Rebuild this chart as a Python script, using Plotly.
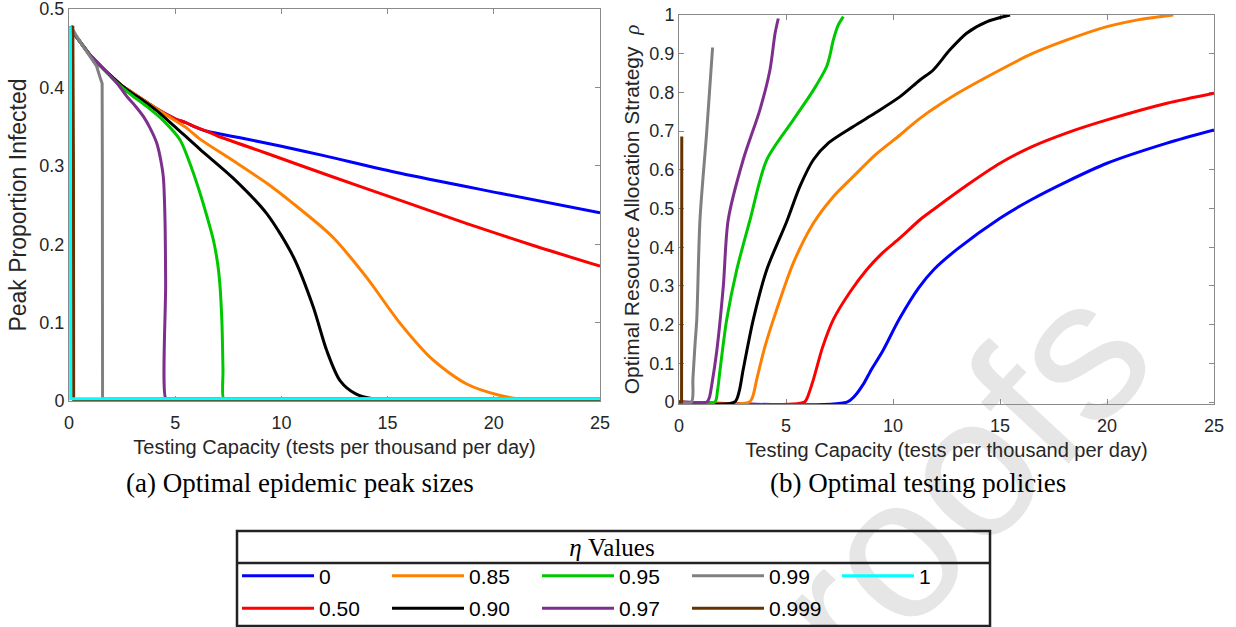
import plotly.graph_objects as go

# ---------------- data ----------------
eta_labels = ["0", "0.50", "0.85", "0.90", "0.95", "0.97", "0.99", "0.999", "1"]
eta_colors = ["#0000ff", "#ff0000", "#ff8000", "#000000", "#00c800",
              "#7e2f8e", "#808080", "#663300", "#00ffff"]

# (a) peak proportion infected vs testing capacity
peak_x_0 = [0, 0.5, 1, 1.5, 2, 2.5, 3, 3.5, 4, 4.5, 5, 5.5, 6, 6.5, 8, 10, 12, 15.6, 20.3, 25]
peak_y_0 = [0.477, 0.459, 0.441, 0.427, 0.414, 0.402, 0.393, 0.384, 0.375, 0.367, 0.360, 0.355,
            0.349, 0.344, 0.336, 0.325, 0.313, 0.2905, 0.265, 0.240]
peak_x_50 = [0, 0.5, 1, 1.5, 2, 2.5, 3, 3.5, 4, 4.5, 5, 5.5, 6, 6.5, 7, 9.3, 12.4, 15.6, 18.7, 21.9, 25]
peak_y_50 = [0.477, 0.459, 0.441, 0.427, 0.414, 0.402, 0.393, 0.384, 0.375, 0.367, 0.360, 0.355,
             0.349, 0.344, 0.338, 0.316, 0.286, 0.256, 0.2266, 0.198, 0.172]
peak_x_85 = [0, 0.5, 1, 1.5, 2, 2.5, 3, 3.5, 4, 4.5, 5.5, 6.17, 7.7, 9.3, 10.5, 12.4, 14.0, 15.6,
             17.15, 18.7, 20.3, 21.2, 22.0, 25]
peak_y_85 = [0.477, 0.459, 0.441, 0.427, 0.414, 0.402, 0.393, 0.384, 0.375, 0.366, 0.349, 0.334,
             0.307, 0.278, 0.253, 0.2095, 0.158, 0.0987, 0.052, 0.022, 0.007, 0.003, 0.003, 0.003]
peak_x_90 = [0, 0.5, 1, 1.5, 2, 2.5, 3, 3.5, 4.1, 4.9, 6.17, 7.74, 9.3, 10.56, 11.5, 12.13, 12.76,
             13.5, 14.3, 15.0, 25]
peak_y_90 = [0.477, 0.459, 0.441, 0.427, 0.414, 0.402, 0.392, 0.383, 0.371, 0.352, 0.321, 0.284,
             0.2394, 0.184, 0.120, 0.0646, 0.026, 0.009, 0.003, 0.003, 0.003]
peak_x_95 = [0, 0.5, 1, 1.5, 2, 2.5, 3, 3.66, 4.5, 5.23, 5.8, 6.17, 6.5, 6.8, 7.0, 7.1, 7.2, 7.25,
             7.28, 7.5, 25]
peak_y_95 = [0.477, 0.459, 0.441, 0.427, 0.413, 0.400, 0.389, 0.3757, 0.356, 0.333, 0.295, 0.265,
             0.235, 0.205, 0.175, 0.150, 0.100, 0.040, 0.003, 0.003, 0.003]
peak_x_97 = [0, 0.5, 1, 1.5, 2, 2.3, 2.72, 3.1, 3.5, 3.8, 4.13, 4.3, 4.44, 4.52, 4.55, 4.56, 4.7, 25]
peak_y_97 = [0.477, 0.459, 0.441, 0.427, 0.413, 0.404, 0.3885, 0.377, 0.363, 0.349, 0.329, 0.310,
             0.286, 0.231, 0.150, 0.003, 0.003, 0.003]
peak_x_99 = [0.05, 0.13, 0.5, 0.99, 1.3, 1.46, 1.56, 1.57, 1.58, 25]
peak_y_99 = [0.477, 0.476, 0.459, 0.440, 0.427, 0.413, 0.405, 0.300, 0.003, 0.003]
peak_x_999 = [0.1, 0.18, 0.21, 0.22, 25]
peak_y_999 = [0.478, 0.477, 0.300, 0.001, 0.001]
peak_x_1 = [0.06, 0.07, 0.08, 25]
peak_y_1 = [0.478, 0.300, 0.003, 0.003]

# (b) optimal resource allocation strategy rho vs testing capacity
rho_x_0 = [0, 7.85, 8.2, 8.6, 9.0, 9.5, 10.3, 11.2, 11.9, 13.0, 15.0, 16.5, 18.1, 20.0, 22.8, 25]
rho_y_0 = [0, 0, 0.015, 0.045, 0.085, 0.130, 0.215, 0.295, 0.342, 0.395, 0.475, 0.524, 0.569,
           0.617, 0.669, 0.703]
rho_x_50 = [0, 5.86, 6.0, 6.28, 6.7, 7.21, 8.0, 8.77, 9.5, 10.33, 11.26, 11.88, 13.5, 15.0, 16.5,
            18.1, 20.0, 22.8, 25]
rho_y_50 = [0, 0, 0.012, 0.058, 0.140, 0.213, 0.285, 0.342, 0.385, 0.424, 0.471, 0.497, 0.562,
            0.617, 0.660, 0.695, 0.729, 0.772, 0.798]
rho_x_85 = [0, 3.29, 3.45, 3.63, 4.0, 4.41, 5.34, 6.28, 7.2, 8.15, 9.2, 10.33, 11.26, 13.0, 15.0,
            16.5, 18.1, 20.0, 21.5, 23.1]
rho_y_85 = [0, 0, 0.015, 0.058, 0.140, 0.213, 0.359, 0.462, 0.530, 0.583, 0.640, 0.690, 0.733,
            0.797, 0.858, 0.900, 0.935, 0.970, 0.988, 1.0]
rho_x_90 = [0, 2.6, 2.8, 3.0, 3.47, 4.1, 5.03, 5.65, 6.28, 7.0, 8.15, 9.2, 10.33, 11.26, 11.88,
            12.66, 13.44, 14.4, 15.47]
rho_y_90 = [0, 0, 0.025, 0.084, 0.213, 0.342, 0.466, 0.557, 0.626, 0.670, 0.712, 0.748, 0.789,
            0.832, 0.858, 0.910, 0.953, 0.983, 1.0]
rho_x_95 = [0, 1.67, 1.8, 1.92, 2.23, 2.7, 3.32, 4.1, 5.34, 6.28, 6.9, 7.05, 7.21, 7.45, 7.68]
rho_y_95 = [0, 0, 0.030, 0.084, 0.213, 0.342, 0.471, 0.626, 0.729, 0.806, 0.867, 0.895, 0.935,
            0.975, 0.996]
rho_x_97 = [0, 1.3, 1.42, 1.53, 1.76, 2.07, 2.3, 3.0, 3.78, 4.25, 4.49, 4.64]
rho_y_97 = [0, 0, 0.012, 0.044, 0.130, 0.299, 0.471, 0.626, 0.755, 0.858, 0.953, 0.991]
rho_x_99 = [0, 0.58, 0.65, 0.75, 0.83, 0.98, 1.29, 1.57]
rho_y_99 = [0, 0, 0.060, 0.150, 0.213, 0.471, 0.695, 0.916]
rho_x_999 = [0, 0.12, 0.13]
rho_y_999 = [0, 0, 0.686]

peak_series = [(peak_x_0, peak_y_0), (peak_x_50, peak_y_50), (peak_x_85, peak_y_85),
               (peak_x_90, peak_y_90), (peak_x_95, peak_y_95), (peak_x_97, peak_y_97),
               (peak_x_99, peak_y_99), (peak_x_999, peak_y_999), (peak_x_1, peak_y_1)]
rho_series = [(rho_x_0, rho_y_0), (rho_x_50, rho_y_50), (rho_x_85, rho_y_85),
              (rho_x_90, rho_y_90), (rho_x_95, rho_y_95), (rho_x_97, rho_y_97),
              (rho_x_99, rho_y_99), (rho_x_999, rho_y_999), None]
# smooth curves vs. sharp (nearly vertical) drops
peak_shape = ["spline", "spline", "spline", "spline", "spline", "spline", "linear", "linear", "linear"]
rho_shape = ["spline", "spline", "spline", "spline", "spline", "spline", "spline", "linear", "linear"]

legend_row = {"0": "legend", "0.85": "legend", "0.95": "legend", "0.99": "legend", "1": "legend",
              "0.50": "legend2", "0.90": "legend2", "0.97": "legend2", "0.999": "legend2"}

x_ticks = [0, 5, 10, 15, 20, 25]
peak_ticks = [0, 0.1, 0.2, 0.3, 0.4, 0.5]
rho_ticks = [0, 0.1, 0.2, 0.3, 0.4, 0.5, 0.6, 0.7, 0.8, 0.9, 1]

# ---------------- figure ----------------
W, H = 1236, 627
ML, MR, MT, MB = 69, 22, 8, 223
PW, PH = W - ML - MR, H - MT - MB


def px_x(p):
    return (p - ML) / PW


def px_y(p):
    return (H - MB - p) / PH


SANS = "Liberation Sans, Arial, sans-serif"
SERIF = "Liberation Serif, Times New Roman, serif"
TXT = "#262626"
AX = "#8a8a8a"
LW = 3

fig = go.Figure()
for i, lab in enumerate(eta_labels):
    px_, py_ = peak_series[i]
    fig.add_trace(go.Scatter(x=px_, y=py_, mode="lines", name=lab,
                             line=dict(color=eta_colors[i], width=LW, shape=peak_shape[i],
                                       smoothing=0.8),
                             xaxis="x", yaxis="y", legend=legend_row[lab],
                             legendgroup=lab, hoverinfo="skip"))
for i, lab in enumerate(eta_labels):
    if rho_series[i] is None:
        continue
    rx, ry = rho_series[i]
    fig.add_trace(go.Scatter(x=rx, y=ry, mode="lines", name=lab,
                             line=dict(color=eta_colors[i], width=LW, shape=rho_shape[i],
                                       smoothing=0.8),
                             xaxis="x2", yaxis="y2", legendgroup=lab,
                             showlegend=False, hoverinfo="skip"))

axis_common = dict(showline=True, linecolor=AX, linewidth=1, mirror="ticks",
                   ticks="inside", ticklen=5, tickcolor=AX, showgrid=False,
                   zeroline=False, layer="below traces", ticklabeloverflow="allow",
                   tickfont=dict(family=SANS, size=18, color=TXT))

xtitle = "Testing Capacity (tests per thousand per day)"
fig.update_layout(
    width=W, height=H,
    margin=dict(l=ML, r=MR, t=MT, b=MB, autoexpand=False),
    paper_bgcolor="white", plot_bgcolor="rgba(0,0,0,0)",
    font=dict(family=SANS, color=TXT),
    hovermode=False,
    xaxis=dict(domain=[0, px_x(600)], range=[0, 25], tickvals=x_ticks, anchor="y",
               ticklabelstandoff=5,
               title=dict(text=xtitle, font=dict(family=SANS, size=20, color=TXT), standoff=8),
               **axis_common),
    yaxis=dict(domain=[px_y(401), px_y(9)], range=[0, 0.5], tickvals=peak_ticks, anchor="x",
               title=dict(text="Peak Proportion Infected", font=dict(family=SANS, size=23, color=TXT),
                          standoff=6),
               **axis_common),
    xaxis2=dict(domain=[px_x(679), 1], range=[0, 25], tickvals=x_ticks, anchor="y2",
                ticklabelstandoff=5,
                title=dict(text=xtitle, font=dict(family=SANS, size=20, color=TXT), standoff=8),
                **axis_common),
    yaxis2=dict(domain=[0, px_y(15)], range=[-0.005, 1], tickvals=rho_ticks, anchor="x2",
                title=dict(text="Optimal Resource Allocation Strategy  "
                                "<i><span style='font-family:Liberation Serif'>ρ</span></i>",
                           font=dict(family=SANS, size=21, color=TXT), standoff=4),
                **axis_common),
    legend=dict(orientation="h", x=px_x(237), xanchor="left", y=px_y(523), yanchor="top",
                itemwidth=72, entrywidth=63, entrywidthmode="pixels",
                bgcolor="rgba(0,0,0,0)", borderwidth=0,
                font=dict(family=SANS, size=21, color="#000"),
                title=dict(text="<i>η</i> Values", side="top center",
                           font=dict(family=SERIF, size=25, color="#000")),
                itemclick=False, itemdoubleclick=False),
    legend2=dict(orientation="h", x=px_x(237), xanchor="left", y=px_y(588), yanchor="top",
                 itemwidth=72, entrywidth=63, entrywidthmode="pixels",
                 bgcolor="rgba(0,0,0,0)", borderwidth=0,
                 font=dict(family=SANS, size=21, color="#000"),
                 itemclick=False, itemdoubleclick=False),
    showlegend=True,
)

# legend frame (box + divider under title)
fig.add_shape(type="rect", xref="paper", yref="paper",
              x0=px_x(237), x1=px_x(990), y0=px_y(626), y1=px_y(531),
              line=dict(color="#222", width=2.5), fillcolor="rgba(0,0,0,0)", layer="above")
fig.add_shape(type="line", xref="paper", yref="paper",
              x0=px_x(237), x1=px_x(990), y0=px_y(563), y1=px_y(563),
              line=dict(color="#222", width=2.5), layer="above")

# watermark (drawn below everything)
fig.add_shape(type="rect", xref="paper", yref="paper",
              x0=px_x(936), x1=px_x(956), y0=px_y(475), y1=px_y(455),
              line=dict(width=0), fillcolor="rgba(0,0,0,0)", layer="below",
              label=dict(text="roofs", textangle=-47, textposition="middle center",
                         font=dict(family=SANS, size=200, color="#e6e6e6")))

# sub-figure captions
fig.add_annotation(text="(a) Optimal epidemic peak sizes", xref="paper", yref="paper",
                   x=px_x(300), y=px_y(483), xanchor="center", yanchor="middle", showarrow=False,
                   font=dict(family=SERIF, size=27, color="#000"))
fig.add_annotation(text="(b) Optimal testing policies", xref="paper", yref="paper",
                   x=px_x(918), y=px_y(483), xanchor="center", yanchor="middle", showarrow=False,
                   font=dict(family=SERIF, size=27, color="#000"))

fig.write_html("out.html", config={"displayModeBar": False, "staticPlot": True},
               post_script="document.body.style.margin='0px';")
